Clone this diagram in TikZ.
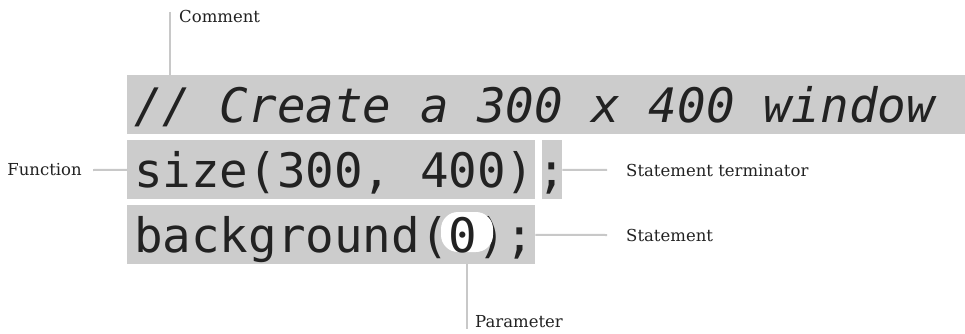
\documentclass[tikz,border=0pt]{standalone}
\usepackage{fontspec}
\setmainfont{DejaVu Serif}
\newfontfamily\codefont{DejaVu Sans Mono}[ItalicFont={DejaVu Sans Mono Oblique}]
\usetikzlibrary{positioning}

\definecolor{boxgray}{HTML}{CCCCCC}
\definecolor{leadgray}{HTML}{C8C8C8}
\definecolor{inkgray}{HTML}{222222}

\begin{document}
\begin{tikzpicture}[x=1pt, y=1pt,
			codebox/.style={
				rectangle,
				fill=boxgray,
				inner sep=0pt,
				anchor=north west,
				text height=47pt,
				text depth=12pt,
				text=inkgray,
				font=\codefont\fontsize{47.5}{50}\selectfont
			},
			lbl/.style={inner sep=0pt, text=inkgray, font=\fontsize{16.5}{19}\selectfont},
			lead/.style={draw=leadgray, line width=2pt}
			]
			
			\useasboundingbox (0,0) rectangle (965,-334);
			
			\node (comm) [codebox] at (127,-75) {\makebox[838pt][l]{\hspace*{7pt}\itshape // Create a 300 x 400 window}};
			\node (size) [codebox] at (127,-140) {\makebox[408pt][l]{\hspace*{7pt}size(300, 400)}};
			\node (semi) [codebox] at (542,-140) {\makebox[20pt]{;}};
			\node (bg) [codebox] at (127,-205) {\makebox[408pt][l]{\hspace*{7pt}background(\phantom{0});}};
			\node (par) [rectangle, rounded corners=17pt, fill=white, inner sep=0pt,
				minimum width=52pt, minimum height=40pt] at (467,-232) {};
			\node (zero) [anchor=base, inner sep=0pt, text=inkgray,
				font=\codefont\fontsize{47.5}{50}\selectfont] at (463,-252) {0};
			
			\coordinate (ctop) at (170,-12);
			\node (cmt) [lbl, anchor=base west] at (179,-23) {Comment};
			\draw [lead] (ctop) -- (ctop |- comm.north);
			
			\coordinate (fend) at (93,-170);
			\node (fn) [lbl, left=11pt of fend] {Function};
			\draw [lead] (fend) -- (size);
			
			\coordinate (tend) at (607,-170);
			\node (term) [lbl, right=19pt of tend] {Statement terminator};
			\draw [lead] (semi) -- (tend);
			
			\coordinate (send) at (607,-235);
			\node (stm) [lbl, right=19pt of send] {Statement};
			\draw [lead] (bg) -- (send);
			
			\coordinate (pend) at (467,-329);
			\node (prm) [lbl, anchor=base west] at (475,-327) {Parameter};
			\draw [lead] (par |- bg.south) -- (pend);
			
		\end{tikzpicture}
\end{document}
